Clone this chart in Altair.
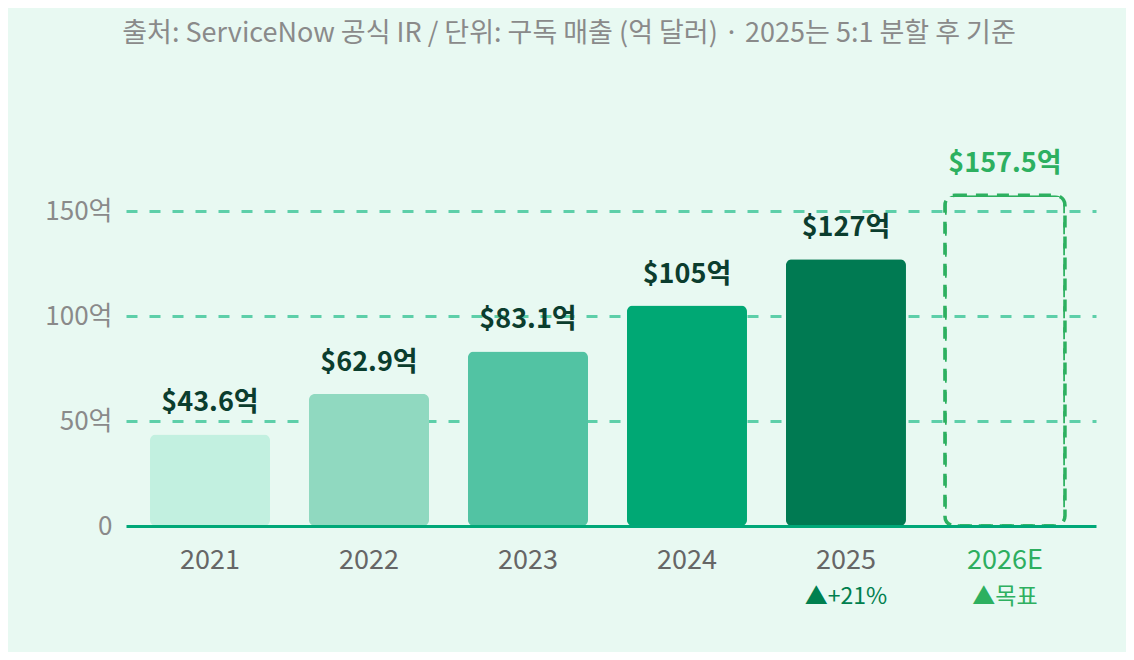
import altair as alt
import pandas as pd

years = ["2021", "2022", "2023", "2024", "2025", "2026E"]
revenue = [43.6, 62.9, 83.1, 105, 127, 157.5]
value_labels = ["$43.6억", "$62.9억", "$83.1억", "$105억", "$127억", "$157.5억"]
sub_labels = ["", "", "", "", "▲+21%", "▲목표"]
is_target = [False, False, False, False, False, True]

bar_colors = ["#C2F0E0", "#90D9C0", "#52C3A3", "#00A874", "#007A52", "#2DB060"]
label_colors = ["#0B3D2E", "#0B3D2E", "#0B3D2E", "#0B3D2E", "#0B3D2E", "#2DB060"]
sub_colors = ["#00804F", "#00804F", "#00804F", "#00804F", "#00804F", "#2DB060"]

df = pd.DataFrame({
    "year": years,
    "revenue": revenue,
    "label": value_labels,
    "sub": sub_labels,
    "target": is_target,
})

FONT = "Noto Sans CJK KR"
W, H = 970, 378

x = alt.X(
    "year:N",
    sort=years,
    scale=alt.Scale(paddingInner=0.245, paddingOuter=0.173, align=0.436),
    axis=alt.Axis(
        title=None,
        labelAngle=0,
        labelFontSize=27,
        labelFont=FONT,
        labelColor={"expr": "datum.value == '2026E' ? '#2DAE5F' : '#666666'"},
        labelPadding=21,
        ticks=False,
        domain=True,
        domainColor="#00A878",
        domainWidth=3,
        grid=False,
        zindex=1,
    ),
)

y = alt.Y(
    "revenue:Q",
    scale=alt.Scale(domain=[0, 180], nice=False),
    axis=alt.Axis(
        title=None,
        values=[0, 50, 100, 150],
        labelExpr="datum.value == 0 ? '0' : datum.value + '억'",
        labelFontSize=26,
        labelFont=FONT,
        labelColor="#8A8A8A",
        labelPadding=14,
        ticks=False,
        domain=False,
        grid=True,
        gridColor={"expr": "datum.value == 0 ? 'rgba(0,0,0,0)' : '#5DCFA9'"},
        gridDash=[11, 12],
        gridWidth=3,
        zindex=0,
    ),
)

color_scale = alt.Scale(domain=years, range=bar_colors)
label_scale = alt.Scale(domain=years, range=label_colors)
sub_scale = alt.Scale(domain=years, range=sub_colors)

base = alt.Chart(df)

bars = base.transform_filter("!datum.target").mark_bar(cornerRadius=6).encode(
    x=x,
    y=y,
    color=alt.Color("year:N", scale=color_scale, legend=None),
)

target_box = base.transform_filter("datum.target").mark_bar(
    cornerRadius=10,
    fillOpacity=0,
    strokeWidth=3.5,
    strokeDash=[12, 9],
).encode(
    x=x,
    y=y,
    stroke=alt.Stroke("year:N", scale=color_scale, legend=None),
)

value_text = base.mark_text(
    font=FONT,
    fontSize=27,
    fontWeight="bold",
    baseline="alphabetic",
    dy=-23,
).encode(
    x=x,
    y=y,
    text="label:N",
    color=alt.Color("year:N", scale=label_scale, legend=None),
)

sub_text = base.transform_filter("datum.sub != ''").mark_text(
    font=FONT,
    fontSize=23,
    baseline="middle",
    dy=71,
).encode(
    x=x,
    y=alt.value(H),
    text="sub:N",
    color=alt.Color("year:N", scale=sub_scale, legend=None),
)

chart = alt.layer(bars, target_box, value_text, sub_text).resolve_scale(
    color="independent"
).properties(
    width=W,
    height=H,
    background="#E8F9F2",
    padding={"left": 118, "top": 140, "right": 30, "bottom": 126},
    autosize=alt.AutoSizeParams(type="none"),
    title=alt.TitleParams(
        text="출처: ServiceNow 공식 IR / 단위: 구독 매출 (억 달러) · 2025는 5:1 분할 후 기준",
        font=FONT,
        fontSize=27,
        fontWeight="normal",
        color="#8A8A8A",
        anchor="middle",
        dx=-42,
        offset=100,
    ),
).configure_view(stroke=None)

chart.save("out.html", embed_options={"renderer": "svg", "actions": False})
